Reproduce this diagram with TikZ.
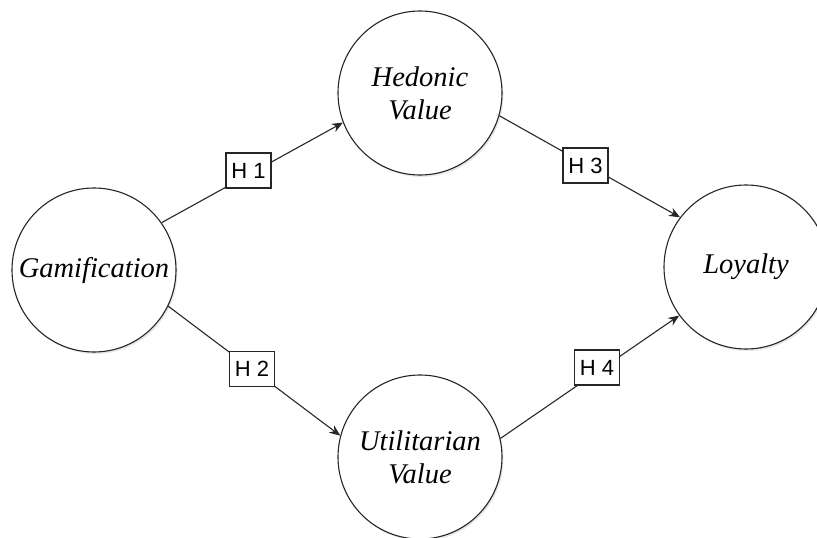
\documentclass[tikz,border=0pt]{standalone}
\usepackage{fontspec}
\setmainfont{Liberation Serif}
\newfontfamily\labelfont{Liberation Sans}
\usetikzlibrary{arrows.meta,shadows}
\begin{document}
\begin{tikzpicture}[x=1pt,y=-1pt,
  construct/.style={circle,draw=black!85,line width=1.1pt,fill=white,minimum size=164pt,inner sep=0pt,
    align=center,font=\fontsize{28.5}{33}\selectfont\itshape,
    drop shadow={opacity=0.18,shadow xshift=1.5pt,shadow yshift=-2pt}},
  hyp/.style={draw=black!85,line width=1.1pt,fill=white,minimum width=45pt,minimum height=35pt,inner sep=0pt,
    font=\labelfont\fontsize{22}{22}\selectfont},
  path/.style={draw=black!85,line width=1.1pt,-{Stealth[length=11pt,width=9pt]}}]
\useasboundingbox (0,0) rectangle (817,538);
\begin{scope}
\clip (0,0) rectangle (817,538);
\node[construct] (gam) at (94,270) {Gamification};
\node[construct] (hed) at (420,93) {Hedonic\\Value};
\node[construct] (uti) at (420,457) {Utilitarian\\Value};
\node[construct] (loy) at (746,267) {Loyalty};
\end{scope}
\draw[path] (gam.35) -- (hed.201);
\draw[path] (gam.-26) -- (uti.165);
\draw[path] (hed.-16) -- (loy.143);
\draw[path] (uti.13) -- (loy.216);
\node[hyp] (h1) at (248.5,170.5) {H 1};
\node[hyp] (h2) at (252,369) {H 2};
\node[hyp] (h3) at (585.5,165.5) {H 3};
\node[hyp] (h4) at (597,367.5) {H 4};
\end{tikzpicture}
\end{document}
